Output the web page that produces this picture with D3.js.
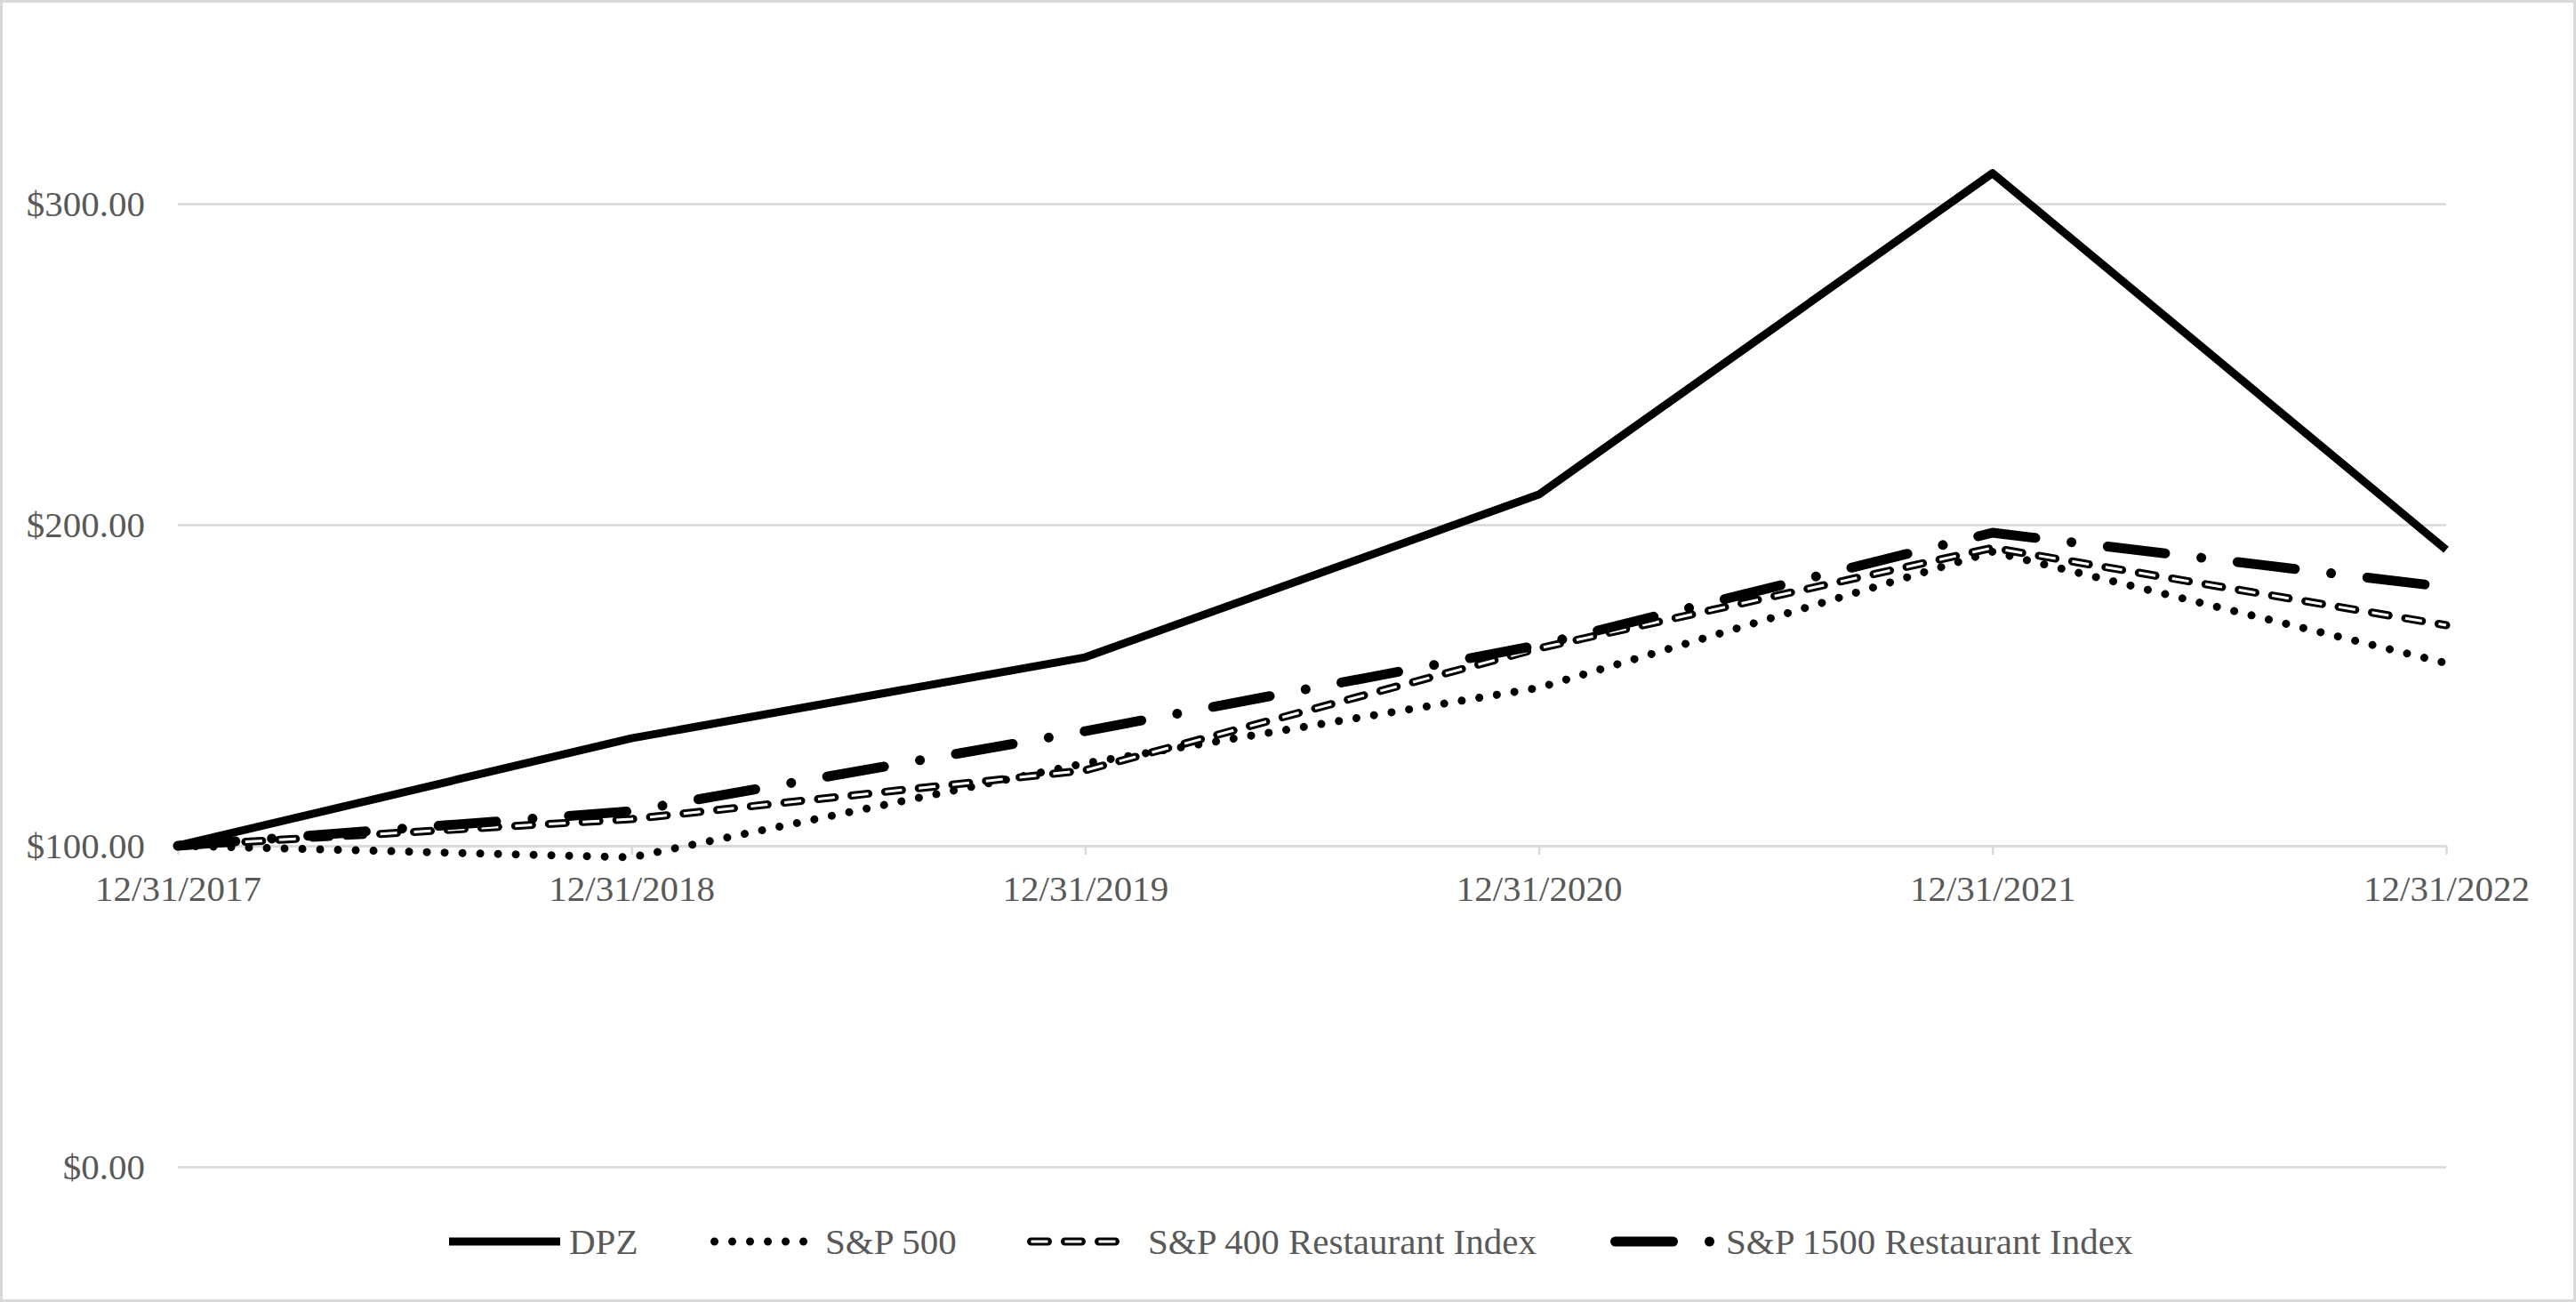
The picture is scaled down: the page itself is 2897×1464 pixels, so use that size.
<!DOCTYPE html>
<html>
<head>
<meta charset="utf-8">
<script src="https://cdn.jsdelivr.net/npm/d3@7"></script>
<style>
  html, body { margin: 0; padding: 0; background: #fff; }
  svg { display: block; }
  text { font-family: "Liberation Serif", "Times New Roman", serif; fill: #595959; }
</style>
</head>
<body>
<script>
// ---- data ----
const categories = ["12/31/2017", "12/31/2018", "12/31/2019", "12/31/2020", "12/31/2021", "12/31/2022"];
const seriesNames = ["DPZ", "S&P 500", "S&P 400 Restaurant Index", "S&P 1500 Restaurant Index"];
const dpz      = [100, 133.5, 158.7, 209.4, 309.5, 192.2];
const sp500    = [100, 96.4, 125.7, 149.2, 191.6, 156.9];
const sp400    = [100, 108.3, 123.5, 161.5, 192.8, 168.7];
const sp1500   = [100, 110.8, 135.7, 162.5, 197.5, 180.6];
const yTicks   = [0, 100, 200, 300];

// ---- layout ----
const W = 2897, H = 1464;
const plotL = 200, plotR = 2751, plotT = 48.5, plotB = 1312;
const FS = 41;

const svg = d3.select("body").append("svg").attr("width", W).attr("height", H);

svg.append("rect").attr("x", 1.5).attr("y", 1.5).attr("width", W - 3).attr("height", H - 3)
  .attr("fill", "#fff").attr("stroke", "#d9d9d9").attr("stroke-width", 3);

const x = d3.scalePoint().domain(categories).range([plotL, plotR]);
const y = d3.scaleLinear().domain([0, 350]).range([plotB, plotT]);

// gridlines + y labels
const yAxis = d3.axisLeft(y).tickValues(yTicks).tickSize(-(plotR - plotL)).tickPadding(37)
  .tickFormat(d => "$" + d3.format(",.2f")(d));
const gy = svg.append("g").attr("transform", `translate(${plotL},0)`).call(yAxis);
gy.select(".domain").remove();
gy.selectAll(".tick line").attr("stroke", "#d9d9d9").attr("stroke-width", 2.5);
gy.selectAll(".tick text").attr("font-size", FS).attr("fill", "#595959")
  .attr("font-family", "Liberation Serif, serif").attr("dy", "0.34em");

// x axis at y = 100
const xAxis = d3.axisBottom(x).tickSize(10).tickSizeOuter(0).tickPadding(23);
const gx = svg.append("g").attr("transform", `translate(0,${y(100)})`).call(xAxis);
gx.select(".domain").attr("stroke", "#d9d9d9").attr("stroke-width", 2.5);
gx.selectAll(".tick line").attr("stroke", "#d9d9d9").attr("stroke-width", 2.5);
gx.selectAll(".tick text").attr("font-size", FS).attr("fill", "#595959")
  .attr("font-family", "Liberation Serif, serif").attr("dy", "0.71em");

// ---- lines ----
const line = d3.line().x((d, i) => x(categories[i])).y(d => y(d));

const styles = [
  { data: dpz, layers: [{ stroke: "#000", width: 9, dash: null, cap: "butt" }] },
  { data: sp500, layers: [{ stroke: "#000", width: 9, dash: "0.01 20", cap: "round" }] },
  { data: sp400, layers: [
      { stroke: "#000", width: 9, dash: "19 19", cap: "round" },
      { stroke: "#fff", width: 3, dash: "19 19", cap: "butt" }] },
  { data: sp1500, layers: [{ stroke: "#000", width: 11, dash: "65 41 0.01 41", cap: "round" }] }
];

styles.forEach(s => {
  s.layers.forEach(l => {
    svg.append("path").datum(s.data).attr("d", line)
      .attr("fill", "none").attr("stroke", l.stroke).attr("stroke-width", l.width)
      .attr("stroke-dasharray", l.dash).attr("stroke-linecap", l.cap)
      .attr("stroke-linejoin", "round");
  });
});

// ---- legend ----
const legendY = 1396;
const legendItems = [
  { x1: 505, x2: 630, tx: 640 },
  { x1: 803.5, x2: 904, tx: 928 },
  { x1: 1159.5, x2: 1268, tx: 1291 },
  { x1: 1816.5, x2: 1927, tx: 1941 }
];
seriesNames.forEach((name, i) => {
  const it = legendItems[i];
  styles[i].layers.forEach(l => {
    svg.append("path").attr("d", d3.line()([[it.x1, legendY], [it.x2, legendY]]))
      .attr("fill", "none").attr("stroke", l.stroke).attr("stroke-width", l.width)
      .attr("stroke-dasharray", l.dash).attr("stroke-linecap", l.cap);
  });
  svg.append("text").attr("x", it.tx).attr("y", legendY).attr("dy", "0.34em")
    .attr("font-size", FS).text(name);
});
</script>
</body>
</html>
